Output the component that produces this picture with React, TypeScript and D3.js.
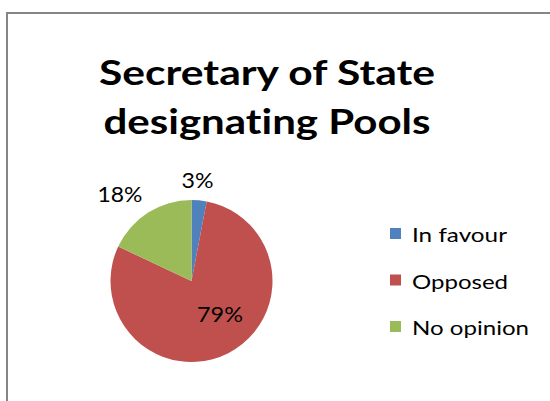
import React from "react";
import * as d3 from "d3";

const categories = ["In favour", "Opposed", "No opinion"];
const values = [3, 79, 18];
const colors = ["#4F81BD", "#C0504D", "#9BBB59"];
const titleLines = ["Secretary of State", "designating Pools"];

export default function App() {
  const W = 550, H = 401;
  const cx = 191.5, cy = 281, r = 81;
  const pie = d3.pie<number>().sort(null).value((d) => d)(values);
  const arc = d3.arc<d3.PieArcDatum<number>>().innerRadius(0).outerRadius(r);
  const labelPos: [number, number][] = [
    [197.5, 188],
    [220, 322],
    [120, 202],
  ];
  const labelW = [32, 46, 45];
  const legendW = [95, 96, 117];
  const font = "Lato, Open Sans, sans-serif";
  const noLig = { fontVariantLigatures: "none" as const, fontFeatureSettings: '"liga" 0, "clig" 0' };
  return (
    <svg width={W} height={H} style={{ position: "absolute", left: 0, top: 0, background: "#fff" }}>
      <rect x={0} y={0} width={W} height={H} fill="#fff" />
      <rect x={7} y={13} width={600} height={500} fill="none" stroke="#868686" strokeWidth={2} />
      {titleLines.map((t, i) => (
        <text key={i} x={267} y={85 + i * 49} textAnchor="middle" fontFamily={font} fontWeight="bold" fontSize={35} fill="#000"
          textLength={i === 0 ? 336 : 327} lengthAdjust="spacingAndGlyphs" style={noLig}>
          {t}
        </text>
      ))}
      <g transform={`translate(${cx},${cy})`}>
        {pie.map((p, i) => (
          <path key={i} d={arc(p) || ""} fill={colors[i]} />
        ))}
      </g>
      {pie.map((p, i) => (
        <text key={i} x={labelPos[i][0]} y={labelPos[i][1]} textAnchor="middle" fontFamily={font} fontSize={21} fill="#000"
          textLength={labelW[i]} lengthAdjust="spacingAndGlyphs">
          {d3.format(".0%")(p.data / d3.sum(values))}
        </text>
      ))}
      {categories.map((c, i) => (
        <g key={c} transform={`translate(390,${228 + i * 46.5})`}>
          <rect x={0} y={0} width={11} height={11} fill={colors[i]} />
          <text x={22} y={14} fontFamily={font} fontSize={20} fill="#000" textLength={legendW[i]} lengthAdjust="spacingAndGlyphs" style={noLig}>{c}</text>
        </g>
      ))}
    </svg>
  );
}
